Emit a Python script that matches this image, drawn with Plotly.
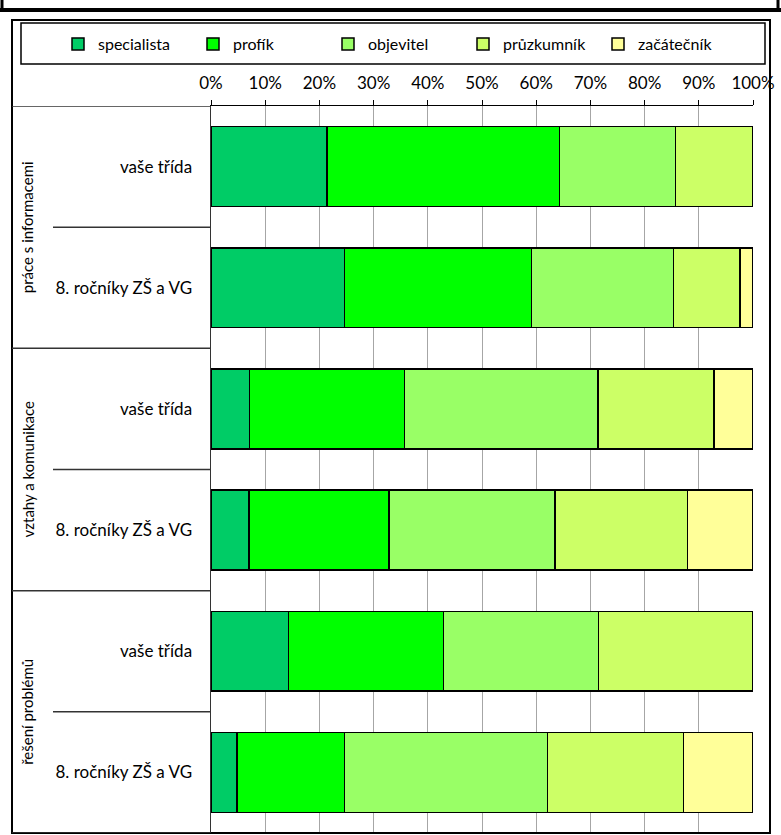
import plotly.graph_objects as go

levels = ["specialista", "profík", "objevitel", "průzkumník", "začátečník"]
colors = ["#00CC66", "#00FF00", "#99FF66", "#CCFF66", "#FFFF99"]

groups = ["práce s informacemi", "vztahy a komunikace", "řešení problémů"]
rows = ["vaše třída", "8. ročníky ZŠ a VG"] * 3

# percentages per row (top to bottom), one list per level
specialista = [21.4, 24.6, 7.1, 7.0, 14.3, 4.8]
profik      = [42.9, 34.5, 28.6, 25.8, 28.6, 19.8]
objevitel   = [21.4, 26.2, 35.7, 30.7, 28.6, 37.5]
pruzkumnik  = [14.3, 12.3, 21.4, 24.4, 28.5, 25.1]
zacatecnik  = [0.0, 2.4, 7.2, 12.1, 0.0, 12.8]
series = [specialista, profik, objevitel, pruzkumnik, zacatecnik]

xticks = list(range(0, 101, 10))
xticklabels = [f"{v}%" for v in xticks]

FONT = "Lato"
pos = list(range(len(rows)))

fig = go.Figure()
for name, col, vals in zip(levels, colors, series):
    fig.add_trace(go.Bar(
        x=vals, y=pos, orientation="h", name=name,
        marker=dict(color=col, line=dict(color="black", width=1.5)),
        hoverinfo="skip",
    ))

W, H = 781, 835
L, R, T, B = 211, 28, 106, 2
pw, ph = W - L - R, H - T - B
def px(x):
    return (x - L) / pw
def py(y):
    return (H - B - y) / ph

shapes = []
# outer frame of the chart
shapes.append(dict(type="rect", xref="paper", yref="paper", x0=px(12), x1=px(770),
                   y0=0, y1=py(20), line=dict(color="black", width=2)))
# remnant of the element above
shapes.append(dict(type="line", xref="paper", yref="paper", x0=px(0), x1=px(781),
                   y0=py(10), y1=py(10), line=dict(color="black", width=4)))
shapes.append(dict(type="line", xref="paper", yref="paper", x0=px(2), x1=px(2),
                   y0=py(10), y1=py(0), line=dict(color="black", width=3)))
shapes.append(dict(type="line", xref="paper", yref="paper", x0=px(778), x1=px(778),
                   y0=py(10), y1=py(0), line=dict(color="black", width=3)))
# legend box
shapes.append(dict(type="rect", xref="paper", yref="paper", x0=px(21), x1=px(765),
                   y0=py(64), y1=py(23), line=dict(color="black", width=1.5)))
# category table dividers
for k in range(len(groups) + 1):
    yv = 2 * k - 0.5
    shapes.append(dict(type="line", xref="paper", yref="y", x0=px(12), x1=0,
                       y0=yv, y1=yv, line=dict(color="#333", width=1.5)))
for k in range(len(groups)):
    yv = 2 * k + 0.5
    shapes.append(dict(type="line", xref="paper", yref="y", x0=px(53), x1=0,
                       y0=yv, y1=yv, line=dict(color="#333", width=1.5)))

annotations = []
for k, g in enumerate(groups):
    annotations.append(dict(text=g, xref="paper", yref="y", x=px(27), y=2 * k + 0.5,
                            xanchor="center", yanchor="middle",
                            textangle=-90, showarrow=False,
                            font=dict(family=FONT, size=15, color="black")))

fig.update_layout(
    width=W, height=H,
    margin=dict(l=L, r=R, t=T, b=B),
    paper_bgcolor="white", plot_bgcolor="white",
    barmode="stack", bargap=0.34,
    font=dict(family=FONT, size=17, color="black"),
    showlegend=True,
    legend=dict(orientation="h", x=px(58), xanchor="left", y=py(44), yanchor="middle",
                traceorder="normal", bgcolor="rgba(0,0,0,0)",
                font=dict(family=FONT, size=16, color="black"),
                itemwidth=30, entrywidth=90, entrywidthmode="pixels"),
    xaxis=dict(range=[0, 100], side="top", tickvals=xticks, ticktext=xticklabels,
               showgrid=True, gridcolor="#a6a6a6", gridwidth=1,
               showline=True, linecolor="black", linewidth=1.5,
               ticks="outside", ticklen=5, tickcolor="black", zeroline=False,
               ticklabelstandoff=4, fixedrange=True),
    yaxis=dict(range=[len(rows) - 0.5, -0.5], tickvals=pos, ticktext=rows,
               showgrid=False, showline=True, linecolor="#333", linewidth=1.5,
               ticks="", ticklabelstandoff=14, zeroline=False, fixedrange=True),
    shapes=shapes,
    annotations=annotations,
)

fig.write_html("out.html", post_script="document.body.style.margin='0';",
               config={"displayModeBar": False, "staticPlot": True})
